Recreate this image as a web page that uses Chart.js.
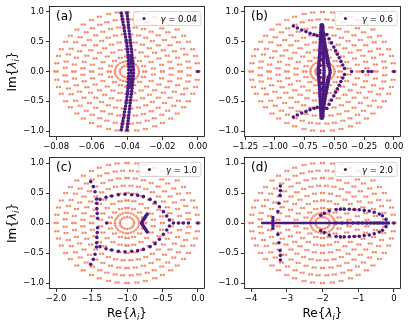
<!DOCTYPE html>
<html>
<head>
<meta charset="utf-8">
<script src="https://cdn.jsdelivr.net/npm/chart.js@4.4.1/dist/chart.umd.min.js"></script>
<style>
  html, body { margin: 0; padding: 0; background: #fff; }
  #fig { position: relative; width: 409px; height: 327px; overflow: hidden; }
  canvas { position: absolute; }
</style>
</head>
<body>
<div id="fig">
  <canvas id="ca" width="212" height="152" style="left:0;top:0"></canvas>
  <canvas id="cb" width="202" height="152" style="left:207px;top:0"></canvas>
  <canvas id="cc" width="212" height="175" style="left:0;top:152px"></canvas>
  <canvas id="cd" width="202" height="175" style="left:207px;top:152px"></canvas>
</div>
<script>
"use strict";
const ORANGE = '#F98A6C';
const PURPLE = '#4A1A80';
const FONT = '"DejaVu Sans", sans-serif';

// gamma of each panel, and legend text
const gammas = [0.04, 0.6, 1.0, 2.0];
const gammaText = ['0.04', '0.6', '1.0', '2.0'];
const panelLabels = ['(a)', '(b)', '(c)', '(d)'];

// axis ticks
const xTicksA = [-0.08, -0.06, -0.04, -0.02, 0];
const xTicksB = [-1.25, -1.0, -0.75, -0.5, -0.25, 0];
const xTicksC = [-2.0, -1.5, -1.0, -0.5, 0];
const xTicksD = [-4, -3, -2, -1, 0];
const yTicks = [-1.0, -0.5, 0, 0.5, 1.0];

// background (orange) spectrum, normalised: rings, their angles in the first quadrant (deg),
// and the small horizontal split of each dot pair
const ringRadius = [1.0, 0.875, 0.75, 0.625, 0.5, 0.375, 0.25, 0.17, 0.1];
const ringAngles = [
  [0, 8, 15, 22, 30, 37, 45, 52, 60, 67, 75, 82, 90],
  [4, 11, 19, 26, 34, 41, 49, 56, 64, 71, 79, 86],
  [0, 9, 18, 27, 36, 45, 54, 63, 72, 81, 90],
  [5, 15, 25, 35, 45, 55, 65, 75, 85],
  [0, 13, 26, 39, 51, 64, 77, 90],
  [8, 25, 42, 58, 75, 90],
  [0, 22, 45, 68, 90],
  [0, 14, 28, 42, 56, 70, 84],
  [0, 22, 45, 68, 90]
];
const ringSplit = [0.02, 0.02, 0.02, 0.02, 0.02, 0.02, 0.02, 0, 0];

// (a) gamma = 0.04, upper half (mirrored below)
const aStrandY = [0.98, 0.93, 0.88, 0.83, 0.78, 0.73, 0.68, 0.63, 0.58, 0.53, 0.48, 0.43, 0.38, 0.33, 0.28, 0.23, 0.18, 0.13, 0.08, 0.03];
const aLeftX = [-0.0432, -0.0429, -0.0426, -0.0423, -0.0420, -0.0417, -0.0414, -0.0411, -0.0408, -0.0405, -0.0402, -0.0400, -0.0398, -0.0396, -0.0394, -0.0393, -0.0392, -0.0391, -0.0390, -0.0390];
const aRightX = [-0.0400, -0.0398, -0.0396, -0.0394, -0.0392, -0.0390, -0.0388, -0.0386, -0.0384, -0.0382, -0.0380, -0.0378, -0.0376, -0.0374, -0.0372, -0.0370, -0.0368, -0.0366, -0.0365, -0.0364];
const aCoreX = [-0.0378, -0.0377, -0.0377, -0.0377, -0.0377, 0.0];
const aCoreY = [0.26, 0.20, 0.14, 0.08, 0.02, 0.0];

// (b) gamma = 0.6
const bBandY = [0.78, 0.74, 0.70, 0.66, 0.62, 0.58, 0.54, 0.50, 0.46, 0.42, 0.38, 0.34, 0.30, 0.26, 0.22, 0.18, 0.14, 0.10, 0.06, 0.02];
const bLeftX = [-0.612, -0.613, -0.614, -0.615, -0.616, -0.617, -0.618, -0.619, -0.620, -0.621, -0.622, -0.623, -0.624, -0.625, -0.626, -0.628, -0.630, -0.632, -0.634, -0.635];
const bMidX = [-0.606, -0.605, -0.604, -0.603, -0.602, -0.601, -0.600, -0.599, -0.598, -0.597, -0.596, -0.595, -0.594, -0.593, -0.592, -0.591, -0.590, -0.589, -0.588, -0.587];
const bRightX = [-0.600, -0.598, -0.596, -0.594, -0.591, -0.588, -0.585, -0.582, -0.579, -0.576, -0.572, -0.568, -0.564, -0.560, -0.556, -0.552, -0.548, -0.544, -0.540, -0.536];
const bFillX = [-0.580, -0.576, -0.572, -0.568, -0.564, -0.560, -0.556, -0.552, -0.612, -0.616, -0.620, -0.623];
const bFillY = [0.38, 0.34, 0.30, 0.26, 0.22, 0.18, 0.14, 0.10, 0.30, 0.20, 0.10, 0.02];
const bArmX = [-0.845, -0.812, -0.775, -0.739, -0.705, -0.671, -0.645, -0.565, -0.545, -0.525, -0.505, -0.490, -0.475, -0.460, -0.445, -0.430, -0.415, -0.355, -0.262, -0.215, -0.187, 0.0];
const bArmY = [0.764, 0.731, 0.697, 0.670, 0.641, 0.619, 0.600, 0.62, 0.55, 0.48, 0.41, 0.35, 0.29, 0.23, 0.17, 0.11, 0.05, 0, 0, 0, 0, 0];

// (c) gamma = 1.0
const cLoopX = [-1.512, -1.475, -1.451, -1.430, -1.428, -1.425, -1.420, -1.415, -1.287, -1.381, -1.296, -1.216, -1.122, -1.028, -0.934, -0.849, -0.769, -0.675, -0.604, -0.543, -0.487, -0.440, -0.402, -0.345, -0.275, -0.204, -0.134, 0.0];
const cLoopY = [0.689, 0.606, 0.522, 0.40, 0.33, 0.24, 0.16, 0.08, 0.0, 0.394, 0.428, 0.450, 0.472, 0.478, 0.472, 0.461, 0.439, 0.394, 0.344, 0.272, 0.189, 0.117, 0.050, 0, 0, 0, 0, 0];
const cChevX = [-0.715, -0.727, -0.739, -0.751, -0.763, -0.775, -0.786, -0.794];
const cChevY = [0.150, 0.128, 0.106, 0.085, 0.064, 0.043, 0.022, 0.0];

// (d) gamma = 2.0
const dLineX = [-3.72, -3.5, -3.3, -3.1, -2.9, -2.7, -2.5, -2.3, -2.1, -1.9, -1.7, -1.5, -1.3, -1.1, -0.9, -0.7, -0.5, -0.3, -0.12];
const dDotX = [-1.62, -1.45, -1.3, -1.15, -1.0, -0.88, -0.76, -0.65, -0.55, -0.46, -0.38, -0.3, -0.22, -0.15, 0.0];
const dColX = [-3.18, -3.18, -3.19, -3.22, -3.25, -3.39, -3.39];
const dColY = [0.617, 0.540, 0.460, 0.330, 0.190, 0.090, 0.040];
const dLoopX = [-2.05, -1.95, -1.81, -1.62, -1.50, -1.39, -1.25, -1.11, -0.97, -0.83, -0.69, -0.55, -0.41, -0.32, -0.22];
const dLoopY = [0.13, 0.16, 0.20, 0.225, 0.23, 0.23, 0.228, 0.225, 0.22, 0.21, 0.20, 0.18, 0.15, 0.12, 0.06];

// helpers
function mirror(xs, ys) {
  const pts = [];
  xs.forEach((x, i) => {
    pts.push({ x: x, y: ys[i] });
    if (ys[i] !== 0) pts.push({ x: x, y: -ys[i] });
  });
  return pts;
}

function orangePoints(g) {
  const pts = [];
  ringRadius.forEach((r, k) => {
    const d = ringSplit[k];
    ringAngles[k].forEach(deg => {
      const t = deg * Math.PI / 180;
      const u = r * Math.cos(t), v = r * Math.sin(t);
      [[u, v], [-u, v], [u, -v], [-u, -v]].forEach(([uu, vv]) => {
        pts.push({ x: -g + g * (uu - d), y: vv });
        if (d) pts.push({ x: -g + g * (uu + d), y: vv });
      });
    });
  });
  return pts;
}

function fmt(v, dec) {
  if (Math.abs(v) < 1e-9) return (0).toFixed(dec);
  return (v < 0 ? '\u2212' : '') + Math.abs(v).toFixed(dec);
}

function drawMath(ctx, parts, x, y, size, rotate) {
  ctx.save();
  ctx.translate(x, y);
  if (rotate) ctx.rotate(-Math.PI / 2);
  const fontOf = p => (p.it ? 'italic ' : '') + (p.sub ? size * 0.7 : size) + 'px ' + FONT;
  const widths = parts.map(p => { ctx.font = fontOf(p); return ctx.measureText(p.t).width; });
  const total = widths.reduce((s, w) => s + w, 0);
  let cx = -total / 2;
  ctx.fillStyle = '#000';
  ctx.textBaseline = 'alphabetic';
  parts.forEach((p, i) => {
    ctx.font = fontOf(p);
    ctx.fillText(p.t, cx, size * 0.35 + (p.sub ? size * 0.22 : 0));
    cx += widths[i];
  });
  ctx.restore();
}

const IM_PARTS = [{ t: 'Im{' }, { t: '\u03bb', it: true }, { t: 'i', it: true, sub: true }, { t: '}' }];
const RE_PARTS = [{ t: 'Re{' }, { t: '\u03bb', it: true }, { t: 'i', it: true, sub: true }, { t: '}' }];

function drawDecor(chart, cfg) {
  const ctx = chart.ctx;
  const a = chart.chartArea;
  ctx.save();
  // frame
  ctx.strokeStyle = '#000';
  ctx.lineWidth = 0.8;
  ctx.strokeRect(Math.round(a.left) + 0.5, Math.round(a.top) + 0.5, Math.round(a.right - a.left) - 1, Math.round(a.bottom - a.top) - 1);
  // panel label
  ctx.fillStyle = '#000';
  ctx.font = '12px ' + FONT;
  ctx.textBaseline = 'alphabetic';
  ctx.fillText(cfg.label, a.left + 7, a.top + 14);
  // legend
  const lsize = 8.5;
  ctx.font = 'italic ' + lsize + 'px ' + FONT;
  const gw = ctx.measureText('\u03b3').width;
  ctx.font = lsize + 'px ' + FONT;
  const rest = ' = ' + cfg.gText;
  const rw = ctx.measureText(rest).width;
  const w = 27 + gw + rw + 4, h = 14;
  const right = a.right - 4, top = a.top + 5.5, left = right - w;
  ctx.beginPath();
  ctx.roundRect(left, top, w, h, 2);
  ctx.fillStyle = 'rgba(255,255,255,0.8)';
  ctx.fill();
  ctx.strokeStyle = '#cccccc';
  ctx.lineWidth = 0.8;
  ctx.stroke();
  ctx.beginPath();
  ctx.arc(left + 10.5, top + h / 2, 1.6, 0, Math.PI * 2);
  ctx.fillStyle = PURPLE;
  ctx.fill();
  ctx.fillStyle = '#000';
  ctx.font = 'italic ' + lsize + 'px ' + FONT;
  ctx.fillText('\u03b3', left + 27, top + h / 2 + 3);
  ctx.font = lsize + 'px ' + FONT;
  ctx.fillText(rest, left + 27 + gw, top + h / 2 + 3);
  // axis titles
  if (cfg.yTitle) drawMath(ctx, IM_PARTS, 12, (a.top + a.bottom) / 2, 12, true);
  if (cfg.xTitle) drawMath(ctx, RE_PARTS, (a.left + a.right) / 2, a.bottom + 24, 12, false);
  ctx.restore();
}

function makePanel(id, cfg) {
  const tickFont = { family: FONT, size: 8.5 };
  const datasets = [
    { data: cfg.purple, backgroundColor: PURPLE, borderColor: PURPLE, pointRadius: 1.8, borderWidth: 0 }
  ];
  if (cfg.line) {
    datasets.push({ data: cfg.line, showLine: true, borderColor: PURPLE, borderWidth: 2.6, pointRadius: 0 });
  }
  datasets.push({ data: orangePoints(cfg.gamma), backgroundColor: ORANGE, borderColor: ORANGE, pointRadius: 1.25, borderWidth: 0 });
  return new Chart(document.getElementById(id), {
    type: 'scatter',
    data: { datasets: datasets },
    options: {
      responsive: false,
      animation: false,
      events: [],
      layout: { padding: { left: 0, top: cfg.padTop, right: cfg.padRight, bottom: 0 } },
      plugins: { legend: { display: false }, tooltip: { enabled: false } },
      scales: {
        x: {
          type: 'linear', min: cfg.xMin, max: cfg.xMax,
          afterBuildTicks: s => { s.ticks = cfg.xTicks.map(v => ({ value: v })); },
          afterFit: s => { s.height = cfg.xAxisH; s.paddingLeft = 0; s.paddingRight = 0; },
          ticks: { callback: v => fmt(v, cfg.xDec), font: tickFont, color: '#000', padding: 2, maxRotation: 0, autoSkip: false },
          grid: { drawOnChartArea: false, drawTicks: true, tickLength: 3, tickColor: '#000', tickWidth: 0.8 },
          border: { display: false }
        },
        y: {
          type: 'linear', min: -1.1, max: 1.1,
          afterBuildTicks: s => { s.ticks = yTicks.map(v => ({ value: v })); },
          afterFit: s => { s.width = cfg.yAxisW; s.paddingTop = 0; s.paddingBottom = 0; },
          ticks: { callback: v => fmt(v, 1), font: tickFont, color: '#000', padding: 2, autoSkip: false },
          grid: { drawOnChartArea: false, drawTicks: true, tickLength: 3, tickColor: '#000', tickWidth: 0.8 },
          border: { display: false }
        }
      }
    },
    plugins: [{ id: 'decor', afterDraw: chart => drawDecor(chart, cfg) }]
  });
}

makePanel('ca', {
  gamma: gammas[0], gText: gammaText[0], label: panelLabels[0],
  xMin: -0.084, xMax: 0.004, xTicks: xTicksA, xDec: 2,
  padTop: 6, padRight: 7, xAxisH: 15, yAxisW: 49, yTitle: true, xTitle: false,
  purple: [].concat(mirror(aLeftX, aStrandY), mirror(aRightX, aStrandY), mirror(aCoreX, aCoreY))
});
makePanel('cb', {
  gamma: gammas[1], gText: gammaText[1], label: panelLabels[1],
  xMin: -1.26, xMax: 0.06, xTicks: xTicksB, xDec: 2,
  padTop: 6, padRight: 8, xAxisH: 15, yAxisW: 37, yTitle: false, xTitle: false,
  purple: [].concat(mirror(bLeftX, bBandY), mirror(bMidX, bBandY), mirror(bRightX, bBandY), mirror(bFillX, bFillY), mirror(bArmX, bArmY))
});
makePanel('cc', {
  gamma: gammas[2], gText: gammaText[2], label: panelLabels[2],
  xMin: -2.1, xMax: 0.1, xTicks: xTicksC, xDec: 1,
  padTop: 5, padRight: 7, xAxisH: 38, yAxisW: 49, yTitle: true, xTitle: true,
  purple: [].concat(mirror(cLoopX, cLoopY), mirror(cChevX, cChevY))
});
makePanel('cd', {
  gamma: gammas[3], gText: gammaText[3], label: panelLabels[3],
  xMin: -4.2, xMax: 0.2, xTicks: xTicksD, xDec: 0,
  padTop: 5, padRight: 8, xAxisH: 38, yAxisW: 37, yTitle: false, xTitle: true,
  line: dLineX.map(x => ({ x: x, y: 0 })),
  purple: [].concat(mirror(dColX, dColY), mirror(dLoopX, dLoopY), dDotX.map(x => ({ x: x, y: 0 })))
});
</script>
</body>
</html>
